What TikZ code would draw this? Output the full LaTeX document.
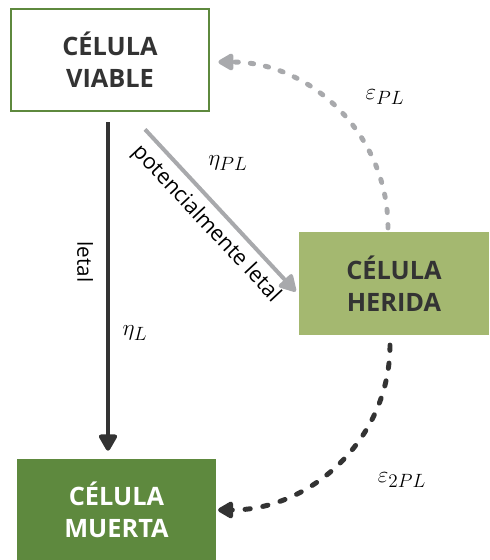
\documentclass[tikz,border=0pt]{standalone}
\usepackage{fontspec}
\setmainfont{Open Sans}
\usetikzlibrary{arrows.meta,calc}

\definecolor{leafgreen}{HTML}{5E893E}
\definecolor{palegreen}{HTML}{A4B870}
\definecolor{inkdark}{HTML}{333333}
\definecolor{inkgray}{HTML}{A8A9AC}

\begin{document}
\begin{tikzpicture}[
  x=0.75pt, y=0.75pt,
  every node/.style={font=\fontsize{15.5}{18}\selectfont},
  cell/.style={rectangle, align=center, inner sep=0pt, font=\fontsize{19}{24}\selectfont\bfseries},
  rate/.style={font=\fontsize{19}{21}\selectfont},
  solidarrow/.style={-{Triangle[length=14pt, width=15pt, round]}, line width=3.2pt},
  dotarrow/.style={-{Triangle[length=13pt, width=14pt, round]}, line width=3.7pt, line cap=round}
]
\useasboundingbox (0,0) rectangle (489,560);

\node[cell, draw=leafgreen, line width=1.6pt, fill=white, minimum width=149pt, minimum height=77pt, text=inkdark] (viable) at (110,500) {CÉLULA\\VIABLE};
\node[cell, fill=palegreen, minimum width=142.5pt, minimum height=77pt, text=inkdark] (herida) at (394,276.5) {CÉLULA\\HERIDA};
\node[cell, fill=leafgreen, minimum width=149pt, minimum height=76.5pt, text=white] (muerta) at (116.5,50) {CÉLULA\\MUERTA};

% transiciones
\draw[solidarrow, inkdark] ($(viable.south)+(-2,-10)$) -- ($(viable.south |- muerta.north)+(-2,8)$);
\draw[solidarrow, inkgray, line width=3pt] ($(viable.south)+(35,-17)$) -- ($(herida.west)+(-3,-8)$);
\draw[dotarrow, inkgray, dash pattern=on 2.5pt off 9pt] ($(herida.north)+(-6,4)$) to[out=90, in=0] ($(viable.east)+(8,-2)$);
\draw[dotarrow, inkdark, dash pattern=on 4pt off 9.5pt] ($(herida.south)+(-4,-10)$) to[out=-90, in=0] ($(muerta.east)+(2,0)$);

% etiquetas
\node[rotate=-90] (letal) at (85,298) {letal};
\node[rate] (etaL) at (135,227) {$\eta_L$};
\node[rotate=-47, font=\fontsize{16.2}{18}\selectfont] (potletal) at (206,336) {potencialmente letal};
\node[rate] (etaPL) at (228,397) {$\eta_{PL}$};
\node[rate] (epsPL) at (385,463) {$\varepsilon_{PL}$};
\node[rate] (eps2PL) at (402,80) {$\varepsilon_{2PL}$};
\end{tikzpicture}
\end{document}
